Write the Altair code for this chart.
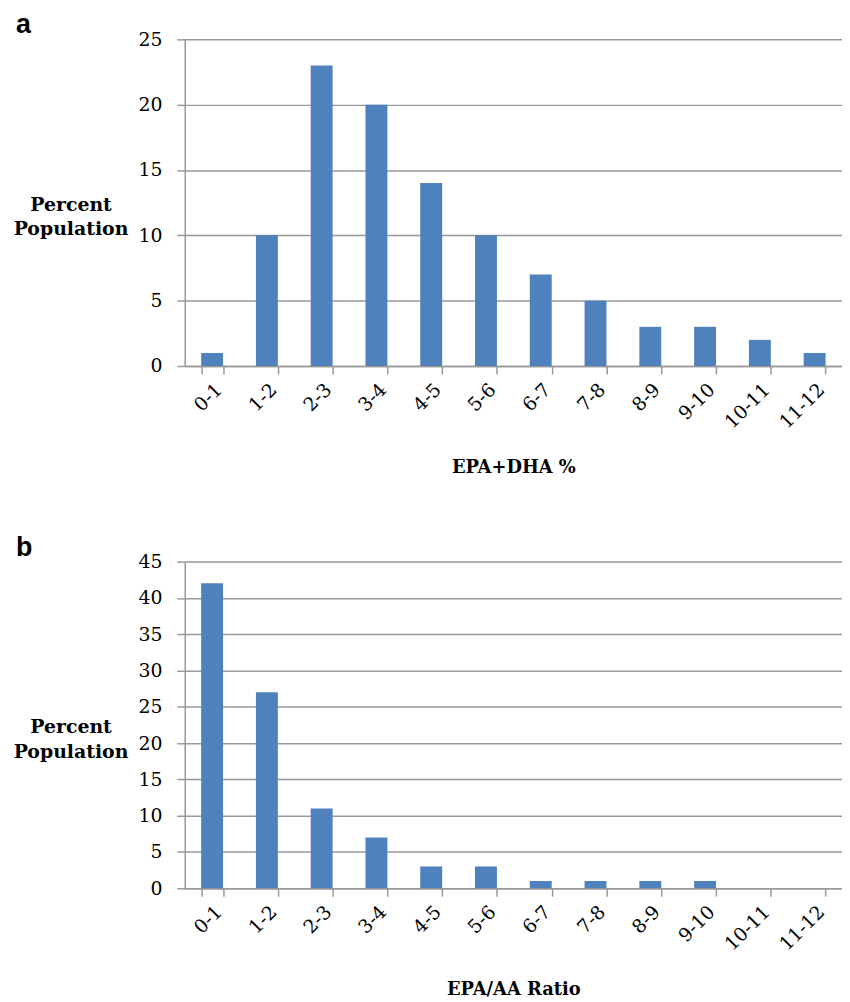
import altair as alt
import pandas as pd

categories = ["0-1", "1-2", "2-3", "3-4", "4-5", "5-6", "6-7", "7-8", "8-9", "9-10", "10-11", "11-12"]
epa_dha_pct = [1, 10, 23, 20, 14, 10, 7, 5, 3, 3, 2, 1]
epa_aa_ratio = [42, 27, 11, 7, 3, 3, 1, 1, 1, 1, 0, 0]

GRAY = "#999999"
SERIF = "DejaVu Serif"


def panel(values, letter, xtitle, ymax):
    df = pd.DataFrame({"cat": categories, "val": values})
    return (
        alt.Chart(
            df,
            title=alt.TitleParams(
                letter, anchor="start", frame="group", dx=-170, offset=-9,
                font="Liberation Sans", fontSize=27, fontWeight="bold", color="black",
            ),
        )
        .mark_bar(color="#4f81bd")
        .encode(
            x=alt.X(
                "cat:N", sort=categories,
                scale=alt.Scale(paddingInner=0.6, paddingOuter=0.3),
                axis=alt.Axis(
                    title=xtitle, labelAngle=-45, tickBand="extent", tickSize=8,
                    tickColor=GRAY, tickWidth=1.5, domainColor=GRAY, domainWidth=1.5,
                    labelFont=SERIF, labelFontSize=19, labelColor="black", labelPadding=6,
                    titleFont=SERIF, titleFontSize=18, titleFontWeight="bold",
                    titleColor="black", titlePadding=27,
                ),
            ),
            y=alt.Y(
                "val:Q",
                scale=alt.Scale(domain=[0, ymax], nice=False),
                axis=alt.Axis(
                    values=list(range(0, ymax + 1, 5)), title=["Percent", "Population"],
                    titleAngle=0, titleX=-115, titleY=166, titleAlign="center",
                    titleBaseline="middle", titleLineHeight=25,
                    titleFont=SERIF, titleFontSize=19, titleFontWeight="bold", titleColor="black",
                    labelFont=SERIF, labelFontSize=19, labelColor="black", labelPadding=15,
                    tickSize=8, tickColor=GRAY, tickWidth=1.5,
                    domainColor=GRAY, domainWidth=1.5,
                    grid=True, gridColor=GRAY, gridWidth=1.5,
                ),
            ),
        )
        .properties(width=662, height=329)
    )


top = panel(epa_dha_pct, "a", "EPA+DHA %", 25)
bottom = panel(epa_aa_ratio, "b", "EPA/AA Ratio", 45)

chart = (
    alt.vconcat(top, bottom, spacing=57)
    .properties(padding={"left": 5, "top": 0, "right": 0, "bottom": 0})
    .configure_view(stroke=None)
)

chart.save("out.html", embed_options={"renderer": "svg", "actions": False})
